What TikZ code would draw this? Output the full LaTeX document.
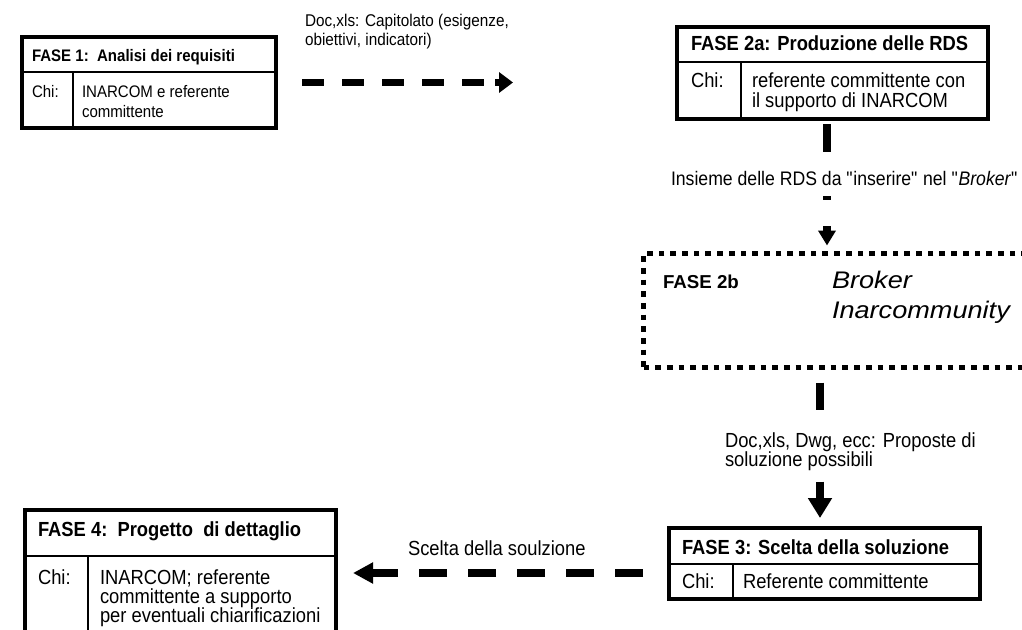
\documentclass[tikz,border=0pt]{standalone}
\usepackage{fontspec}
\setmainfont{Liberation Sans}
\newfontfamily\condfont{Liberation Sans}[FakeStretch=0.9]
\newfontfamily\widefont{Liberation Sans}[FakeStretch=1.13]
\usetikzlibrary{arrows.meta,calc}
\begin{document}
\begin{tikzpicture}[x=1pt,y=-1pt,
  boxframe/.style={draw, line width=3.5pt, rectangle, inner sep=0pt, outer sep=0pt},
  dotframe/.style={draw, line width=5.5pt, dash pattern=on 5.7pt off 6pt, rectangle, inner sep=0pt, outer sep=0pt},
  rule/.style={line width=1.2pt},
  txt/.style={anchor=base west, inner sep=0pt, outer sep=0pt},
  fsmall/.style={font=\condfont\fontsize{16.7}{20}\selectfont},
  fsmallb/.style={font=\condfont\fontsize{16.7}{20}\selectfont\bfseries},
  flabA/.style={font=\condfont\fontsize{17}{20}\selectfont},
  fbig/.style={font=\condfont\fontsize{20.4}{22}\selectfont},
  fbigb/.style={font=\condfont\fontsize{20.4}{22}\selectfont\bfseries},
  flabel/.style={font=\condfont\fontsize{19.6}{22}\selectfont},
  fphase/.style={font=\fontsize{18.7}{20}\selectfont\bfseries},
  fbroker/.style={font=\widefont\fontsize{24}{28}\selectfont\itshape},
  conn/.style={line width=7.5pt},
]
\useasboundingbox (0,0) rectangle (1022,629);
\clip (0,0) rectangle (1022,629);
\fill[white] (0,0) rectangle (1022,629);

% ---------- boxes ----------
\node[boxframe, minimum width=254pt, minimum height=91pt] (b1) at (149,82.5) {};
\draw[rule] (b1.west |- 0,72) -- (b1.east |- 0,72);
\draw[rule] (73,72) -- (73,128);

\node[boxframe, minimum width=311pt, minimum height=92pt] (b2a) at (832.5,73) {};
\draw[rule] (b2a.west |- 0,62) -- (b2a.east |- 0,62);
\draw[rule] (741,62) -- (741,119);

\node[dotframe, minimum width=398pt, minimum height=114pt] (b2b) at (842.5,310.5) {};

\node[boxframe, minimum width=311pt, minimum height=71pt] (b3) at (824.5,563.5) {};
\draw[rule] (b3.west |- 0,564) -- (b3.east |- 0,564);
\draw[rule] (733,564) -- (733,599);

\node[boxframe, minimum width=311pt, minimum height=140pt] (b4) at (180.5,580) {};
\draw[rule] (b4.west |- 0,556) -- (b4.east |- 0,556);
\draw[rule] (88,556) -- (88,650);

% ---------- texts ----------
\node[txt, fsmallb] (t1h) at (32,61) {FASE 1:\ \ Analisi dei requisiti};
\node[txt, fsmall] (t1c) at (32,97) {Chi:};
\node[txt, fsmall] (t1a) at (82,97) {INARCOM e referente};
\node[txt, fsmall] (t1b) at (82,117) {committente};

\node[txt, flabA] (l1a) at (305,27) {Doc,xls: Capitolato (esigenze,};
\node[txt, flabA] (l1b) at (305,45) {obiettivi, indicatori)};

\node[txt, fbigb] (t2h) at (691,50) {FASE 2a: Produzione delle RDS};
\node[txt, fbig] (t2c) at (691,87) {Chi:};
\node[txt, fbig] (t2a) at (752,87) {referente committente con};
\node[txt, fbig] (t2b) at (752,107) {il supporto di INARCOM};

\node[txt, flabel] (l2) at (671,185) {Insieme delle RDS da \textquotedbl inserire\textquotedbl\ nel \textquotedbl\textit{Broker}\textquotedbl};

\node[txt, fphase] (t2bh) at (663,288) {FASE 2b};
\node[txt, fbroker] (t2bx) at (832,288) {Broker};
\node[txt, fbroker] (t2by) at (832,318) {Inarcommunity};

\node[txt, fbig] (l3a) at (725,447) {Doc,xls, Dwg, ecc: Proposte di};
\node[txt, fbig] (l3b) at (725,466) {soluzione possibili};

\node[txt, fbigb] (t3h) at (682,554) {FASE 3: Scelta della soluzione};
\node[txt, fbig] (t3c) at (682,588) {Chi:};
\node[txt, fbig] (t3a) at (743,588) {Referente committente};

\node[txt, fbig] (l4) at (408,555) {Scelta della soulzione};

\node[txt, fbigb] (t4h) at (38,536) {FASE 4:\ \ Progetto\ \ di dettaglio};
\node[txt, fbig] (t4c) at (38,584) {Chi:};
\node[txt, fbig] (t4a) at (100,584) {INARCOM; referente};
\node[txt, fbig] (t4b) at (100,603) {committente a supporto};
\node[txt, fbig] (t4d) at (100,622) {per eventuali chiarificazioni};

% ---------- connectors ----------
\draw[conn, dash pattern=on 22pt off 18pt on 22pt off 18pt on 22pt off 18pt on 22pt off 18pt on 22pt off 11pt on 30pt off 0pt,
      shorten <=26pt, shorten >=164pt,
      -{Triangle[length=14pt,width=20pt]}]
  (b1.east) -- (b1.east -| b2a.west);

\draw[conn, dash pattern=on 28pt off 44pt on 4pt off 26pt on 100pt off 0pt,
      shorten <=5pt, shorten >=8pt, -{Triangle[length=15pt,width=17pt]}]
  ([xshift=-5.5pt]b2a.south) -- ([xshift=-5.5pt]b2a.south |- b2b.north);

\draw[conn, dash pattern=on 27pt off 72pt on 100pt off 0pt,
      shorten <=15pt, shorten >=10pt, -{Triangle[length=20pt,width=23pt]}]
  ([xshift=-4.5pt]b3.north |- b2b.south) -- ([xshift=-4.5pt]b3.north);

\draw[conn, dash pattern=on 28pt off 21pt, shorten <=26pt, shorten >=17pt,
      -{Triangle[length=20pt,width=20pt]}]
  ([yshift=-9.5pt]b3.west) -- ([yshift=-9.5pt]b3.west -| b4.east);
\end{tikzpicture}
\end{document}
